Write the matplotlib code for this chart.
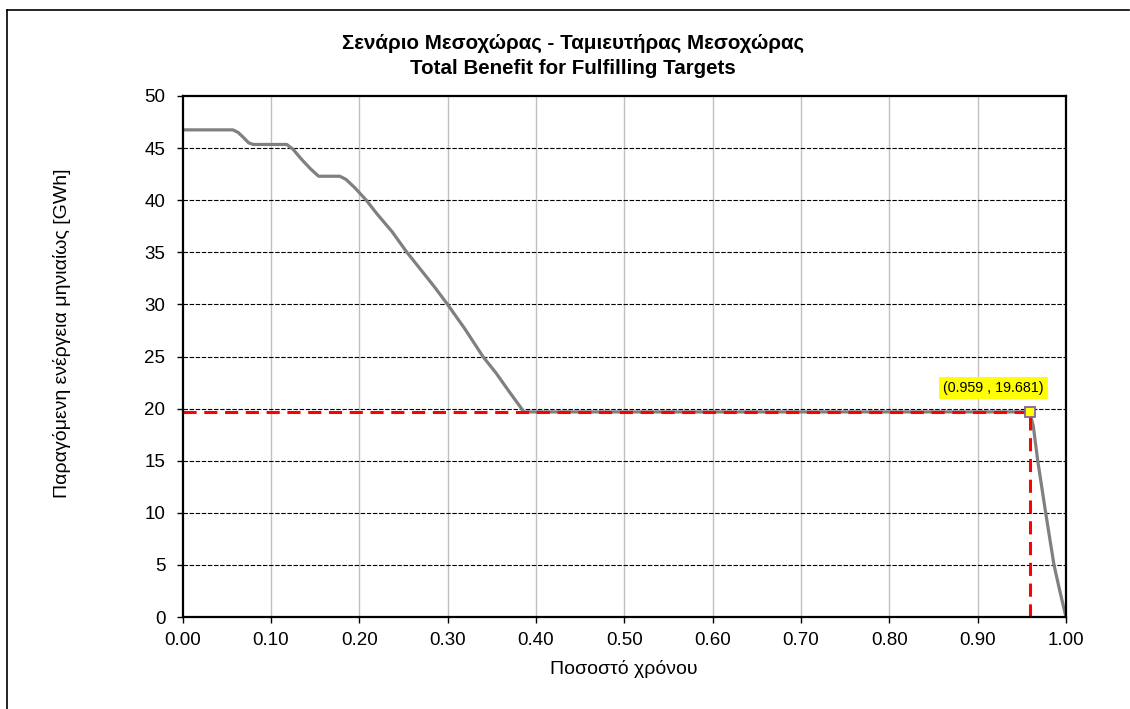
import matplotlib
matplotlib.use("Agg")
import matplotlib.pyplot as plt
from matplotlib.lines import Line2D

plt.rcParams['font.family'] = ['Liberation Sans', 'DejaVu Sans']

# Duration curve: fraction of time vs monthly energy produced
time_fraction = [0.000, 0.057, 0.063, 0.068, 0.075, 0.080, 0.118, 0.125, 0.135,
                 0.145, 0.154, 0.178, 0.185, 0.195, 0.208, 0.220, 0.237, 0.254,
                 0.270, 0.285, 0.300, 0.320, 0.340, 0.355, 0.370, 0.3865,
                 0.959, 0.963, 0.968, 0.977, 0.9864, 0.993, 0.998, 1.000]
energy_gwh = [46.75, 46.75, 46.5, 46.1, 45.5, 45.35, 45.35, 44.9, 43.9,
              43.0, 42.3, 42.3, 42.0, 41.2, 40.0, 38.7, 37.0, 35.0,
              33.3, 31.7, 30.0, 27.6, 25.0, 23.4, 21.6, 19.681,
              19.681, 18.3, 15.0, 10.0, 5.0, 2.5, 0.7, 0.0]

# Guaranteed-energy point
target_x = 0.959
target_y = 19.681

x_ticks = [0.0, 0.1, 0.2, 0.3, 0.4, 0.5, 0.6, 0.7, 0.8, 0.9, 1.0]
y_ticks = [0, 5, 10, 15, 20, 25, 30, 35, 40, 45, 50]

W, H = 1130, 709
fig = plt.figure(figsize=(W / 100, H / 100), dpi=100)
ax = fig.add_axes([182.5 / W, (H - 617) / H, (1066 - 182.5) / W, (617 - 96) / H])

ax.set_xlim(0, 1)
ax.set_ylim(0, 50)
ax.set_xticks(x_ticks)
ax.set_yticks(y_ticks)
ax.set_xticklabels([f"{v:.2f}" for v in x_ticks])
ax.set_yticklabels([str(v) for v in y_ticks])
ax.tick_params(axis='both', direction='out', length=4.3, width=1, labelsize=13.5,
               colors='black')
ax.tick_params(axis='y', pad=8)
ax.tick_params(axis='x', pad=6.5)

# Grid: light vertical lines, fine dashed horizontal lines
for xv in x_ticks[1:-1]:
    ax.axvline(xv, color='#c0c0c0', lw=1.0, zorder=1)
for yv in y_ticks[1:-1]:
    ax.axhline(yv, color='black', lw=0.8, ls=(0, (4, 1.5)), zorder=1)

for s in ax.spines.values():
    s.set_linewidth(1.6)
    s.set_color('black')
    s.set_zorder(5)

ax.plot(time_fraction, energy_gwh, color='#808080', lw=2.3, zorder=3,
        solid_joinstyle='round')

# Red dashed guides to the guaranteed-energy point
ax.plot([0, target_x], [target_y, target_y], color='#ff0000', lw=2.2,
        ls=(0, (4.3, 2.5)), zorder=4)
ax.plot([target_x, target_x], [0, target_y], color='#ff0000', lw=2.2,
        ls=(0, (4.3, 2.5)), zorder=4)
ax.plot([target_x], [target_y], marker='s', ms=7, mfc='#ffff00', mec='#8064a2',
        mew=1.3, zorder=6, clip_on=False)

ax.annotate(f"({target_x:.3f} , {target_y:.3f})", xy=(target_x, target_y),
            xytext=(-36, 24), textcoords='offset pixels', ha='center', va='center',
            fontsize=10.3, color='black', zorder=7,
            bbox=dict(boxstyle='square,pad=0.3', fc='#ffff00', ec='none'))

fig.text(573 / W, 1 - 43 / H, "Σενάριο Μεσοχώρας - Ταμιευτήρας Μεσοχώρας",
         ha='center', va='center', fontsize=14.8, fontweight='bold')
fig.text(573 / W, 1 - 68 / H, "Total Benefit for Fulfilling Targets",
         ha='center', va='center', fontsize=14.8, fontweight='bold')
fig.text(624 / W, 1 - 669 / H, "Ποσοστό χρόνου", ha='center', va='center',
         fontsize=14)
fig.text(62 / W, 1 - 333 / H, "Παραγόμενη ενέργεια μηνιαίως [GWh]", ha='center',
         va='center', rotation=90, fontsize=14)

# Outer chart frame
fig.add_artist(Line2D([6.5, 1129], [H - 10, H - 10], transform=None,
                      color='black', lw=1.2))
fig.add_artist(Line2D([6.5, 6.5], [0, H - 10], transform=None,
                      color='black', lw=1.2))

fig.savefig("out.png", dpi=100)
